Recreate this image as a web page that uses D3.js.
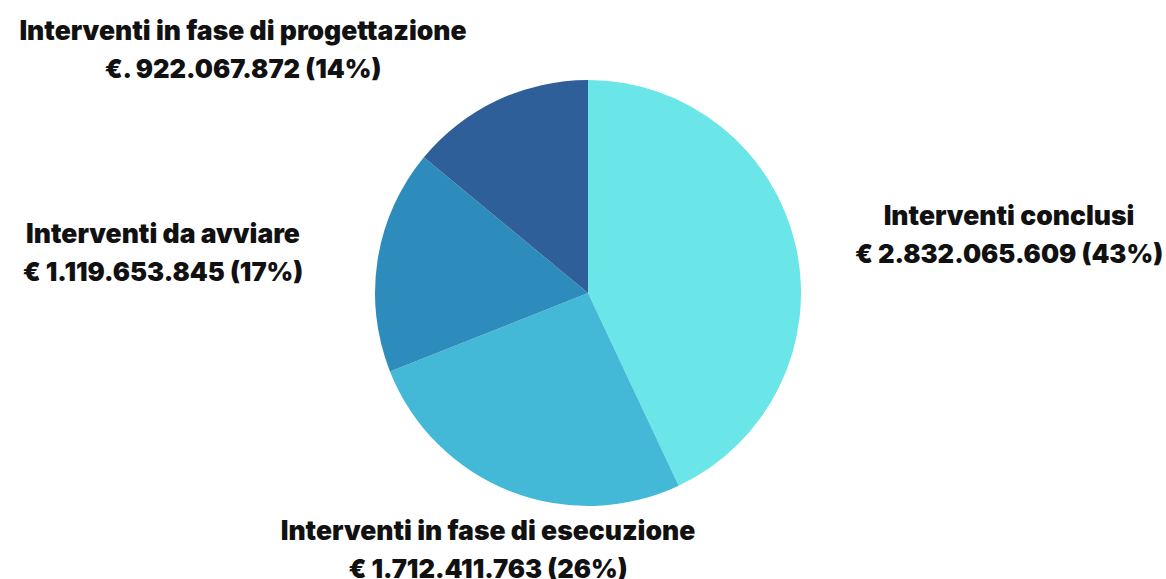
<!DOCTYPE html>
<html>
<head>
<meta charset="utf-8">
<script src="https://cdn.jsdelivr.net/npm/d3@7"></script>
<style>
  body { margin: 0; background: #fff; }
  .label { font-family: Inter, "Open Sans", sans-serif; font-weight: 900; fill: #111; }
</style>
</head>
<body>
<div class="canvas"></div>
<script>
// Chart data
const categories = ["Interventi conclusi", "Interventi in fase di esecuzione", "Interventi da avviare", "Interventi in fase di progettazione"];
const amounts = [2832065609, 1712411763, 1119653845, 922067872];
const amountLabels = ["€ 2.832.065.609 (43%)", "€ 1.712.411.763 (26%)", "€ 1.119.653.845 (17%)", "€. 922.067.872 (14%)"];
const colours = ["#6ae5e8", "#43b8d7", "#2e8cbc", "#2e5f98"];

const width = 1166, height = 579;
const cx = 588, cy = 293, radius = 213;

const svg = d3.select(".canvas")
    .append("svg")
    .attr("width", width)
    .attr("height", height);

const graph = svg.append("g")
    .attr("transform", `translate(${cx}, ${cy})`);

const data = categories.map((c, i) => ({ name: c, value: amounts[i], label: amountLabels[i], colour: colours[i] }));

const pie = d3.pie().sort(null).value(d => d.value);
const arc = d3.arc().innerRadius(0).outerRadius(radius);

graph.selectAll("path")
    .data(pie(data))
    .enter()
    .append("path")
    .attr("d", arc)
    .attr("fill", d => d.data.colour);

// label anchors, relative to the pie centre
const labelPos = [
    { x: 421, y: -68 },
    { x: -100, y: 247 },
    { x: -425, y: -50 },
    { x: -345, y: -253 }
];

const labels = graph.selectAll("text.label")
    .data(data)
    .enter()
    .append("text")
    .attr("class", "label")
    .attr("text-anchor", "middle")
    .attr("font-size", 26.5)
    .attr("transform", (d, i) => `translate(${labelPos[i].x}, ${labelPos[i].y})`);

labels.append("tspan").attr("x", 0).attr("y", 0).text(d => d.name);
labels.append("tspan").attr("x", 0).attr("y", 38).attr("font-size", 25.6).text(d => d.label);
</script>
</body>
</html>
